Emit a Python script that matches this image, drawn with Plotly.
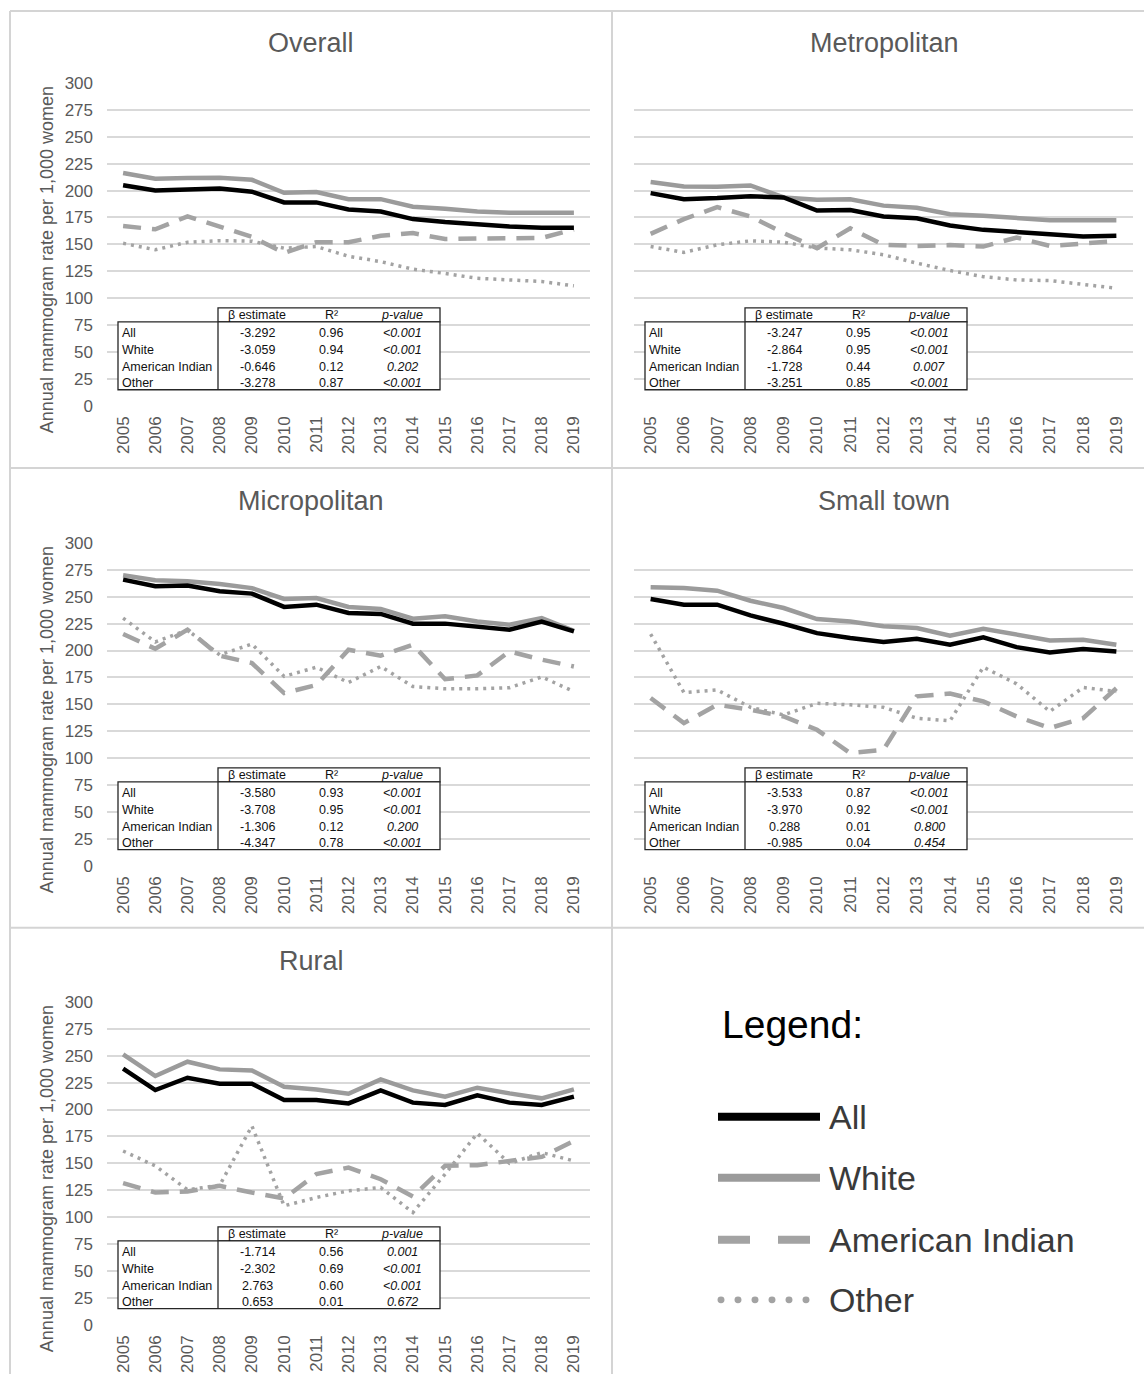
import plotly.graph_objects as go

# ---------------- data ----------------
years = list(range(2005, 2020))
year_labels = [str(y) for y in years]
panel_titles = ["Overall", "Metropolitan", "Micropolitan", "Small town", "Rural"]
series_names = ["All", "White", "American Indian", "Other"]

overall_all = [205, 200, 201, 202, 199, 189, 189, 182.5, 180.5, 173.5, 170.7, 168.5, 166.6, 165.4, 165.4]
overall_white = [216.3, 211, 211.6, 212, 210, 198, 198.6, 192, 192, 185, 183, 180.5, 179.5, 179.5, 179.5]
overall_ai = [167, 164, 176, 166, 157, 142, 152, 152, 158, 160.5, 155, 155.5, 155.5, 156, 164]
overall_other = [151, 145, 152, 153.5, 153, 146.5, 148, 139, 134, 127, 123, 118.5, 117, 115.5, 111.5]

metro_all = [197.6, 192, 193, 194.7, 193.6, 181.5, 182, 176, 174.3, 167.5, 163.5, 161, 159.5, 157.3, 158]
metro_white = [207.9, 203.8, 203.5, 204.8, 193.6, 191.4, 192, 186, 184, 178, 176.5, 174.3, 172.5, 172.5, 172.5]
metro_ai = [159.8, 173.5, 184.6, 176, 160.5, 146.5, 165, 149.6, 148.6, 149.4, 148, 156.4, 148.6, 150.5, 153]
metro_other = [148, 142.6, 149.6, 153.3, 152, 146.6, 145, 140.4, 132.6, 125.7, 120, 117, 116.4, 113, 109.3]

micro_all = [265.9, 259.7, 260.3, 255, 252.9, 240.5, 242.6, 234.9, 234, 225, 225, 221.8, 219.4, 227, 217.8]
micro_white = [270, 265.3, 264.3, 261.8, 258, 247.9, 248.8, 240.5, 238.6, 229.6, 231.8, 227, 224, 230.2, 218.4]
micro_ai = [215.3, 201.7, 219.4, 195.2, 188.4, 160.5, 168, 200.7, 195.2, 205.4, 173.4, 176.9, 199.2, 191.5, 185.2]
micro_other = [230.2, 208, 219, 196, 206, 176, 184.5, 170.3, 185.2, 166.6, 164.5, 164.5, 165.5, 175.5, 162]

small_all = [247.8, 242.6, 242.6, 232.6, 224.9, 216.2, 211.6, 207.9, 211, 205.4, 212.2, 203.2, 198.3, 201.4, 199.2]
small_white = [258.7, 258, 255.6, 246.3, 239.5, 229.2, 227, 222.5, 220.9, 213.8, 220.3, 214.7, 209.4, 210, 205.4]
small_ai = [155.9, 132.6, 149.6, 145, 138.8, 126.4, 104.7, 107.8, 157.5, 160, 152.8, 138.8, 128, 137.2, 165]
small_other = [215.3, 161, 163.4, 147.3, 140.2, 151, 149.6, 147.3, 137.2, 134.7, 184.6, 169.1, 143.4, 165.7, 162]

rural_all = [237.9, 218.1, 229.5, 224, 224, 208.8, 208.8, 205.7, 217.8, 206.4, 204.2, 213.2, 206.4, 204.2, 212]
rural_white = [251.2, 231.1, 244.4, 237.3, 236.3, 221.2, 218.7, 214.7, 228, 217.8, 211.9, 220.3, 215, 210.4, 218.7]
rural_ai = [131.6, 122.9, 123.9, 129.1, 122.9, 117.4, 140, 146.1, 135.3, 119.3, 147.7, 148.3, 152.3, 156, 170.8]
rural_other = [161.5, 147.7, 125.4, 129.7, 184.7, 110.6, 118.3, 124.5, 127.6, 104.4, 140, 177.9, 150, 160, 152.3]

table_header = ["β estimate", "R²", "p-value"]
overall_beta = ["-3.292", "-3.059", "-0.646", "-3.278"]
overall_r2 = ["0.96", "0.94", "0.12", "0.87"]
overall_p = ["<0.001", "<0.001", "0.202", "<0.001"]
metro_beta = ["-3.247", "-2.864", "-1.728", "-3.251"]
metro_r2 = ["0.95", "0.95", "0.44", "0.85"]
metro_p = ["<0.001", "<0.001", "0.007", "<0.001"]
micro_beta = ["-3.580", "-3.708", "-1.306", "-4.347"]
micro_r2 = ["0.93", "0.95", "0.12", "0.78"]
micro_p = ["<0.001", "<0.001", "0.200", "<0.001"]
small_beta = ["-3.533", "-3.970", "0.288", "-0.985"]
small_r2 = ["0.87", "0.92", "0.01", "0.04"]
small_p = ["<0.001", "<0.001", "0.800", "0.454"]
rural_beta = ["-1.714", "-2.302", "2.763", "0.653"]
rural_r2 = ["0.56", "0.69", "0.60", "0.01"]
rural_p = ["0.001", "<0.001", "<0.001", "0.672"]

y_ticks = list(range(0, 301, 25))
y_title = "Annual mammogram rate per 1,000 women"

# ---------------- layout geometry ----------------
W, H = 1144, 1384
FONT = "Liberation Sans, Arial, sans-serif"
TICK_COLOR = "#595959"
GRID = "#d9d9d9"
C_ALL = "#000000"
C_WHITE = "#9b9b9b"
C_AI = "#a3a3a3"
C_OTHER = "#a3a3a3"

def fy(p):
    # vertical pixel correction measured from previous renders
    return (p - 9.1) / 0.9863

cols_px = [(107, 590), (634, 1133)]
rows_px = [(fy(83), fy(406)), (fy(543), fy(866)), (fy(1002), fy(1325))]
cell_title_x = [311, 884]
cell_top = [10, 468, 928]

def px_x(p):
    return p / W

def px_y(p):
    return 1 - p / H

panel_data = [
    (overall_all, overall_white, overall_ai, overall_other, overall_beta, overall_r2, overall_p),
    (metro_all, metro_white, metro_ai, metro_other, metro_beta, metro_r2, metro_p),
    (micro_all, micro_white, micro_ai, micro_other, micro_beta, micro_r2, micro_p),
    (small_all, small_white, small_ai, small_other, small_beta, small_r2, small_p),
    (rural_all, rural_white, rural_ai, rural_other, rural_beta, rural_r2, rural_p),
]

styles = [
    dict(color=C_ALL, width=4.5),
    dict(color=C_WHITE, width=4.5),
    dict(color=C_AI, width=4.5, dash="18px,11px"),
    dict(color=C_OTHER, width=3.5, dash="3px,5px"),
]

fig = go.Figure()
shapes = []
annotations = []
layout_axes = {}

for i, (title, pdata) in enumerate(zip(panel_titles, panel_data)):
    r, c = divmod(i, 2)
    k = i + 1
    xa = "x" if k == 1 else f"x{k}"
    ya = "y" if k == 1 else f"y{k}"
    xl = "xaxis" if k == 1 else f"xaxis{k}"
    yl = "yaxis" if k == 1 else f"yaxis{k}"
    x0p, x1p = cols_px[c]
    y0p, y1p = rows_px[r]
    spacing = (x1p - x0p) / 15.0

    for s in [3, 2, 1, 0]:
        fig.add_trace(go.Scatter(
            x=years, y=pdata[s], mode="lines", name=series_names[s],
            line=styles[s], xaxis=xa, yaxis=ya, showlegend=False,
            hoverinfo="skip",
        ))

    layout_axes[xl] = dict(
        domain=[px_x(x0p), px_x(x1p)], anchor=ya,
        range=[2004.5, 2019.5], tickmode="array", tickvals=years, ticktext=year_labels,
        tickangle=-90, tickfont=dict(size=17, color=TICK_COLOR, family=FONT),
        showgrid=False, zeroline=False, showline=False, ticks="",
        ticklabelstandoff=6, fixedrange=True,
    )
    layout_axes[yl] = dict(
        domain=[px_y(y1p), px_y(y0p)], anchor=xa,
        range=[0, 300], tickmode="array", tickvals=y_ticks,
        showticklabels=(c == 0),
        tickfont=dict(size=17, color=TICK_COLOR, family=FONT),
        showgrid=True, gridcolor=GRID, gridwidth=1.5,
        zeroline=False, showline=False, ticks="",
        ticklabelstandoff=13, fixedrange=True,
    )

    annotations.append(dict(
        text=title, x=px_x(cell_title_x[c]), y=px_y(fy(cell_top[r] + 33)),
        xref="paper", yref="paper", showarrow=False, xanchor="center", yanchor="middle",
        font=dict(size=27, color=TICK_COLOR, family=FONT),
    ))
    if c == 0:
        annotations.append(dict(
            text=y_title, x=px_x(47), y=px_y((y0p + y1p) / 2 + 16),
            xref="paper", yref="paper", showarrow=False, textangle=-90,
            xanchor="center", yanchor="middle",
            font=dict(size=18, color=TICK_COLOR, family=FONT),
        ))

    def tx(off):
        return 2004.5 + off / spacing
    t_left, t_div, t_right = tx(11), tx(111), tx(333)
    t_top, t_hdr, t_bot = 91, 78, 15
    line = dict(color="#262626", width=1.3)
    shapes.append(dict(type="rect", xref=xa, yref=ya, x0=t_div, x1=t_right, y0=t_hdr, y1=t_top,
                       line=line, fillcolor="white", layer="above"))
    shapes.append(dict(type="rect", xref=xa, yref=ya, x0=t_left, x1=t_right, y0=t_bot, y1=t_hdr,
                       line=line, fillcolor="white", layer="above"))
    shapes.append(dict(type="line", xref=xa, yref=ya, x0=t_div, x1=t_div, y0=t_bot, y1=t_hdr,
                       line=line, layer="above"))
    col_centers = [tx(150), tx(224), tx(295)]
    tfont = dict(size=12.5, color="#111111", family=FONT)
    for j, h in enumerate(table_header):
        txt = f"<i>{h}</i>" if j == 2 else h
        annotations.append(dict(text=txt, x=col_centers[j], y=84.5, xref=xa, yref=ya,
                                showarrow=False, xanchor="center", yanchor="middle", font=tfont))
    row_y = [67.8, 52.0, 36.2, 21.4]
    beta, r2, pv = pdata[4], pdata[5], pdata[6]
    for j in range(4):
        annotations.append(dict(text=series_names[j], x=tx(13), y=row_y[j], xref=xa, yref=ya,
                                showarrow=False, xanchor="left", yanchor="middle", font=tfont))
        annotations.append(dict(text=beta[j], x=col_centers[0], y=row_y[j], xref=xa, yref=ya,
                                showarrow=False, xanchor="center", yanchor="middle", font=tfont))
        annotations.append(dict(text=r2[j], x=col_centers[1], y=row_y[j], xref=xa, yref=ya,
                                showarrow=False, xanchor="center", yanchor="middle", font=tfont))
        annotations.append(dict(text=f"<i>{pv[j]}</i>", x=col_centers[2], y=row_y[j], xref=xa, yref=ya,
                                showarrow=False, xanchor="center", yanchor="middle", font=tfont))

border = dict(color="#d4d4d4", width=2)
b_top, b_mid1, b_mid2 = fy(10) + 1, fy(468), fy(928)
shapes += [
    dict(type="line", xref="paper", yref="paper", x0=px_x(10), x1=px_x(10), y0=0, y1=px_y(b_top), line=border),
    dict(type="line", xref="paper", yref="paper", x0=px_x(612), x1=px_x(612), y0=0, y1=px_y(b_top), line=border),
    dict(type="line", xref="paper", yref="paper", x0=px_x(10), x1=1, y0=px_y(b_top), y1=px_y(b_top), line=border),
    dict(type="line", xref="paper", yref="paper", x0=px_x(10), x1=1, y0=px_y(b_mid1), y1=px_y(b_mid1), line=border),
    dict(type="line", xref="paper", yref="paper", x0=px_x(10), x1=1, y0=px_y(b_mid2), y1=px_y(b_mid2), line=border),
]

# custom legend
annotations.append(dict(text="Legend:", x=px_x(720), y=px_y(fy(1025)), xref="paper", yref="paper",
                        showarrow=False, xanchor="left", yanchor="middle",
                        font=dict(size=39, color="#000000", family=FONT)))
leg_y = [fy(1117), fy(1178), fy(1240), fy(1300)]
leg_styles = [
    dict(color=C_ALL, width=8),
    dict(color=C_WHITE, width=8),
    dict(color=C_AI, width=8, dash="32px,28px"),
]
for j in range(4):
    if j < 3:
        shapes.append(dict(type="line", xref="paper", yref="paper", x0=px_x(718), x1=px_x(820),
                           y0=px_y(leg_y[j]), y1=px_y(leg_y[j]), line=leg_styles[j]))
    else:
        for d in range(6):
            cx = 721 + 17 * d
            shapes.append(dict(type="circle", xref="paper", yref="paper",
                               x0=px_x(cx - 3.5), x1=px_x(cx + 3.5),
                               y0=px_y(leg_y[j] + 3.5), y1=px_y(leg_y[j] - 3.5),
                               fillcolor=C_OTHER, line=dict(width=0)))
    annotations.append(dict(text=series_names[j], x=px_x(827), y=px_y(leg_y[j]), xref="paper", yref="paper",
                            showarrow=False, xanchor="left", yanchor="middle",
                            font=dict(size=34, color="#3a3a3a", family=FONT)))

fig.update_layout(
    width=W, height=H, margin=dict(l=0, r=0, t=0, b=0),
    paper_bgcolor="white", plot_bgcolor="white",
    showlegend=False, shapes=shapes, annotations=annotations,
    font=dict(family=FONT),
    **layout_axes,
)

fig.write_html(
    "out.html", config={"displayModeBar": False},
    post_script=(
        "document.documentElement.style.margin='0';"
        "document.documentElement.style.padding='0';"
        "document.documentElement.style.overflow='hidden';"
        "document.body.style.margin='0';"
        "document.body.style.padding='0';"
        "document.body.style.overflow='hidden';"
        "var gd=document.getElementById('{plot_id}');"
        "gd.style.position='absolute';gd.style.left='0px';gd.style.top='0px';"
    ),
)
